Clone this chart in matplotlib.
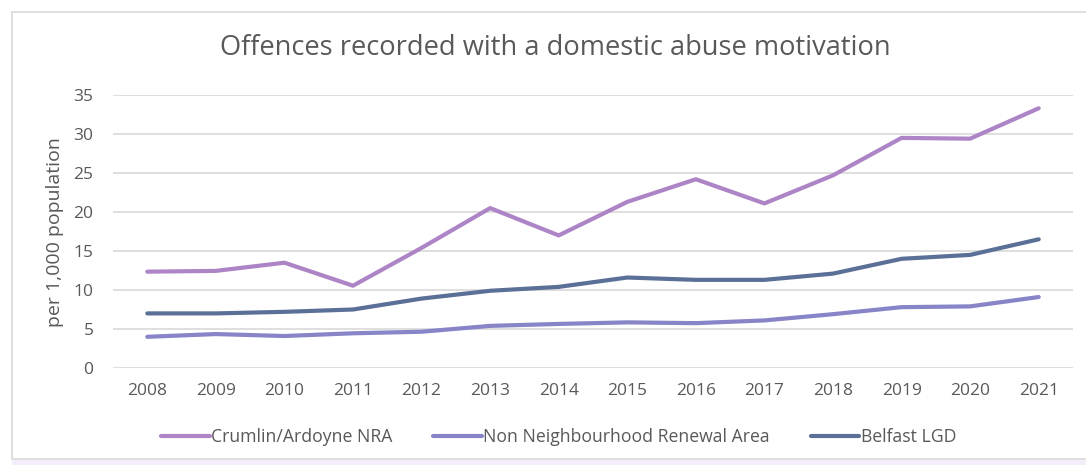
import matplotlib
matplotlib.use("Agg")
import matplotlib.pyplot as plt
from matplotlib.patches import Rectangle

years = [2008, 2009, 2010, 2011, 2012, 2013, 2014, 2015, 2016, 2017, 2018, 2019, 2020, 2021]
crumlin = [12.35, 12.45, 13.5, 10.55, 15.4, 20.5, 17.0, 21.3, 24.2, 21.1, 24.7, 29.5, 29.4, 33.3]
non_nra = [4.0, 4.35, 4.1, 4.45, 4.65, 5.4, 5.65, 5.85, 5.75, 6.1, 6.9, 7.8, 7.9, 9.1]
belfast = [7.0, 7.0, 7.2, 7.5, 8.9, 9.9, 10.4, 11.6, 11.3, 11.3, 12.1, 14.0, 14.5, 16.5]

series_names = ["Crumlin/Ardoyne NRA", "Non Neighbourhood Renewal Area", "Belfast LGD"]
colors = ["#ad84c6", "#8784c7", "#5b7097"]
title = "Offences recorded with a domestic abuse motivation"
ylabel = "per 1,000 population"
yticks = [0, 5, 10, 15, 20, 25, 30, 35]

plt.rcParams['font.family'] = ['Open Sans', 'DejaVu Sans']
W, H = 1086, 465
fig = plt.figure(figsize=(W / 100, H / 100), dpi=100)

# chart frame
fig.patches.append(Rectangle((12 / W, 1 - 459 / H), 1.2, (459 - 12) / H, transform=fig.transFigure,
                             facecolor="white", edgecolor="#d9d9d9", linewidth=1.2, zorder=-2))
fig.patches.append(Rectangle((12 / W, 0), 1.2, (465 - 460) / H, transform=fig.transFigure,
                             facecolor="#f4eefa", edgecolor="none", zorder=-2))

ax = fig.add_axes([113 / W, (465 - 368) / H, (1073 - 113) / W, (368 - 95) / H])
ax.set_facecolor("none")
for vals, c, name in zip([crumlin, non_nra, belfast], colors, series_names):
    ax.plot(years, vals, color=c, lw=3.0, solid_capstyle='round', solid_joinstyle='round', label=name, zorder=3)

ax.set_xlim(2007.5, 2021.5)
ax.set_ylim(0, 35)
ax.set_yticks(yticks)
ax.set_xticks(years)
ax.set_xticklabels([str(y) for y in years])
ax.grid(axis='y', color="#d9d9d9", lw=1.2, zorder=0)
ax.set_axisbelow(True)
for s in ax.spines.values():
    s.set_visible(False)
ax.tick_params(axis='both', length=0, labelsize=12.5, labelcolor="#595959")
ax.tick_params(axis='x', pad=11)
ax.tick_params(axis='y', pad=14)

fig.text(55 / W, 1 - 232 / H, ylabel, rotation=90, ha='center', va='center', fontsize=14, color="#595959")
fig.text(555 / W, 1 - 48 / H, title, ha='center', va='center', fontsize=19.6, color="#595959")

leg = fig.legend(loc='center left', bbox_to_anchor=(161 / W, 1 - 437 / H), ncol=3, frameon=False,
                 fontsize=12.7, handlelength=2.75, handletextpad=0.1, columnspacing=2.3,
                 borderpad=0, borderaxespad=0, labelcolor="#595959")
fig.savefig("out.png", dpi=100)
